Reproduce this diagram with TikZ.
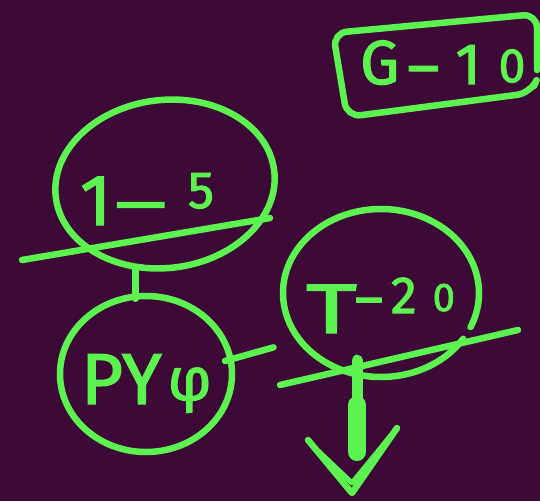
\documentclass[tikz,border=0pt]{standalone}
\usepackage{fontspec}
\setmainfont{Fira Sans}[FakeBold=2]
\usetikzlibrary{shapes.geometric}
\definecolor{bg}{HTML}{3D0A37}
\definecolor{neon}{HTML}{5CF24F}
\newcommand{\fs}[1]{\fontsize{#1}{#1}\selectfont}
\begin{document}
\begin{tikzpicture}[x=1pt,y=-1pt,
  ink/.style={draw=neon, line width=6.5pt, line cap=round, line join=round},
  lbl/.style={text=neon, inner sep=0pt, anchor=base west},
  oval/.style={ellipse, draw=neon, line width=6.5pt, inner sep=0pt},
]
\fill[bg] (0,0) rectangle (540,501);
\useasboundingbox (0,0) rectangle (540,501);

% G-10 box
\node[lbl] (tg) at (360,84) {\fs{62}G\kern8pt\raisebox{-4pt}{–}\kern16pt\fs{58}1\kern18pt\raisebox{2pt}{\fs{48}0}};
\coordinate (ga) at (537,70);
\coordinate (gb) at (537,14);
\coordinate (gc) at (333,33);
\coordinate (gd) at (347,117);
\coordinate (ge) at (531,93);
\coordinate (gf) at (534,86);
\draw[ink, rounded corners=14pt] (ga) -- (gb) -- (gc) -- (gd) -- (ge) -- (gf);

% 1-5
\node[oval, minimum width=220pt, minimum height=168pt, rotate=7] (n15) at (165,184) {};
\node[lbl] (t15) at (80,225) {\fs{72}1\kern4pt{\fs{64}—}\kern22pt\raisebox{17pt}{\fs{52}5}};
\coordinate (s1a) at (22,260);
\coordinate (s1b) at (270,218);
\draw[ink] (s1a) -- (s1b);

% PYphi
\node[oval, minimum width=172pt, minimum height=156pt] (pyo) at (146,374) {};
\node[lbl] (tpy) at (81,404) {\fs{72}P\kern-1pt Y\kern6pt\raisebox{4pt}{\fs{60}φ}};
\draw[ink, shorten >=-6pt] (n15.244) -- (n15.244 |- pyo.north);

% T-20
\node[ellipse, minimum width=196pt, minimum height=168pt, inner sep=0pt] (t20) at (381,293) {};
\draw[ink] (t20.center) ++(33:98 and 84) arc[start angle=33, end angle=384, x radius=98, y radius=84];
\node[lbl] (tt) at (306,333) {\fs{70}\scalebox{1.4}[1]{T}\kern-2pt\raisebox{16pt}{\fs{54}–}\kern8pt\raisebox{20pt}{\fs{52}2\kern16pt\raisebox{2pt}{\fs{40}0}}};
\coordinate (s2a) at (280,385);
\coordinate (s2b) at (518,330);
\draw[ink] (s2a) -- (s2b);

\draw[ink, shorten <=-9pt, shorten >=27pt] (pyo.10) -- (t20.210);

% arrow down
\coordinate (mid) at (357,405);
\coordinate (tip) at (357,452);
\draw[ink, line width=11pt, shorten <=-17pt] (t20.south -| mid) -- (mid);
\draw[ink, line width=18pt] (mid) -- (tip);
\coordinate (va) at (308,440);
\coordinate (vt) at (352,493);
\coordinate (vb) at (397,428);
\coordinate (wa) at (314,447);
\coordinate (wt) at (352,483);
\coordinate (wb) at (392,434);
\draw[ink] (va) -- (vt) -- (vb);
\draw[ink, line width=5pt] (wa) -- (wt) -- (wb);
\end{tikzpicture}
\end{document}
